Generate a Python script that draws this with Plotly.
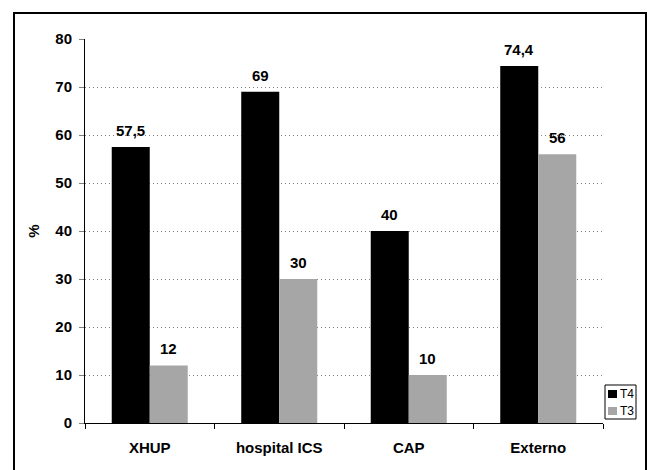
import plotly.graph_objects as go

categories = ["XHUP", "hospital ICS", "CAP", "Externo"]
t4_values = [57.5, 69, 40, 74.4]
t3_values = [12, 30, 10, 56]
t4_labels = ["57,5", "69", "40", "74,4"]
t3_labels = ["12", "30", "10", "56"]
series_names = ["T4", "T3"]
series_colors = ["#000000", "#a6a6a6"]
y_ticks = [0, 10, 20, 30, 40, 50, 60, 70, 80]

W, H = 648, 470
L, R, T, B = 85, 45, 39, 47
pw = W - L - R
ph = H - T - B

FONT = "Liberation Sans, Arial, sans-serif"
BOLD = dict(family=FONT, size=15, color="black", weight="bold")


def px_x(x):
    return (x - L) / pw


def px_y(y):
    return (H - B - y) / ph


fig = go.Figure()
for name, color, vals in zip(series_names, series_colors, [t4_values, t3_values]):
    fig.add_trace(go.Bar(x=categories, y=vals, name=name,
                         marker=dict(color=color, line=dict(width=0))))

annotations = []
bar_px = 38
for shift, vals, labels in [(-bar_px / 2, t4_values, t4_labels), (bar_px / 2, t3_values, t3_labels)]:
    for c, v, lab in zip(categories, vals, labels):
        annotations.append(dict(x=c, y=v, xref="x", yref="y", text=lab, showarrow=False,
                                xshift=shift, yshift=6, yanchor="bottom", font=BOLD))

# legend (small boxed legend at bottom-right)
shapes = [dict(type="rect", xref="paper", yref="paper",
               x0=px_x(605), x1=px_x(636), y0=px_y(419), y1=px_y(385),
               line=dict(color="black", width=1), fillcolor="white", layer="above")]
leg_y = [394, 411]
for name, color, yc in zip(series_names, series_colors, leg_y):
    shapes.append(dict(type="rect", xref="paper", yref="paper",
                       x0=px_x(608), x1=px_x(617), y0=px_y(yc + 4), y1=px_y(yc - 4),
                       line=dict(width=0), fillcolor=color, layer="above"))
    annotations.append(dict(x=px_x(618), y=px_y(yc), xref="paper", yref="paper", text=name,
                            showarrow=False, xanchor="left", yanchor="middle",
                            font=dict(family=FONT, size=12, color="black")))

# outer frame
shapes.append(dict(type="rect", xref="paper", yref="paper",
                   x0=px_x(14), x1=px_x(646), y0=px_y(472), y1=px_y(13),
                   line=dict(color="black", width=2), fillcolor="rgba(0,0,0,0)", layer="above"))

fig.update_layout(
    width=W, height=H,
    margin=dict(l=L, r=R, t=T, b=B, pad=0),
    paper_bgcolor="white", plot_bgcolor="white",
    barmode="group", bargap=0.413, bargroupgap=0,
    font=dict(family=FONT, size=15, color="black"),
    showlegend=False,
    xaxis=dict(
        showline=True, linecolor="black", linewidth=1,
        ticks="outside", ticklen=5, tickcolor="black", tickson="boundaries",
        tickfont=BOLD, ticklabelstandoff=11, showgrid=False, fixedrange=True,
    ),
    yaxis=dict(
        range=[0, 80], tickvals=y_ticks,
        showline=True, linecolor="black", linewidth=1,
        ticks="outside", ticklen=5, tickcolor="#808080",
        tickfont=BOLD, ticklabelstandoff=4,
        showgrid=True, gridcolor="#808080", gridwidth=1, griddash="1px,3px",
        zeroline=False, fixedrange=True,
        title=dict(text="%", font=BOLD, standoff=12),
    ),
    shapes=shapes,
    annotations=annotations,
)

fig.write_html("out.html")
